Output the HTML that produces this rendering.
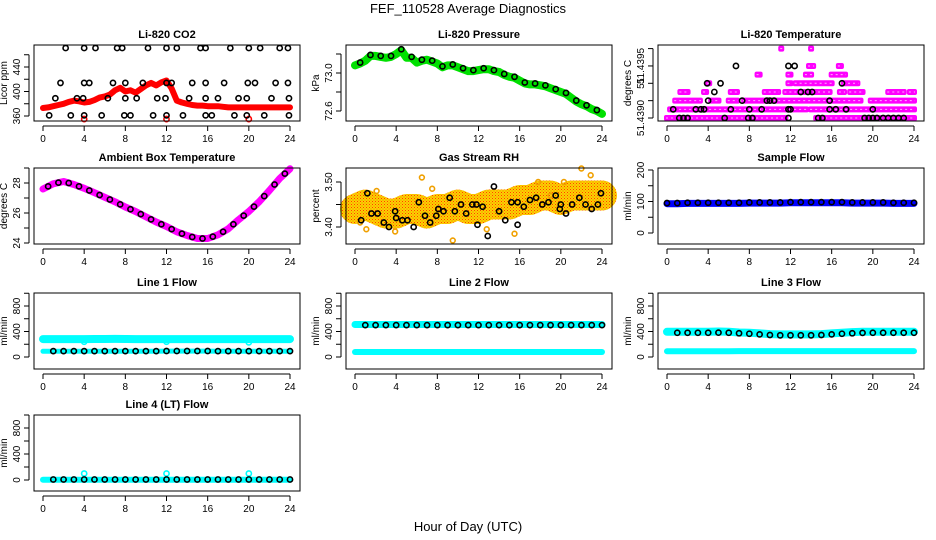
<!DOCTYPE html>
<html><head><meta charset="utf-8"><title>FEF_110528 Average Diagnostics</title>
<style>
html,body{margin:0;padding:0;background:#fff;}
svg{display:block;font-family:"Liberation Sans",Arial,sans-serif;}
</style></head>
<body>
<svg id="chart" width="936" height="540" viewBox="0 0 936 540">
<defs>
<pattern id="rhpat" width="3" height="3" patternUnits="userSpaceOnUse"><rect width="3" height="3" fill="#ffd000"/><rect x="0" y="0" width="1" height="1" fill="#ff4000"/><rect x="1.5" y="1.5" width="1" height="1" fill="#e08000"/></pattern>
</defs>
<text x="468" y="13" text-anchor="middle" font-size="13">FEF_110528  Average Diagnostics</text>
<text x="468" y="531" text-anchor="middle" font-size="13">Hour of Day (UTC)</text>
</svg>
<script>
// ---- data ----
const HH = [0,0.5,1,1.5,2,2.5,3,3.5,4,4.5,5,5.5,6,6.5,7,7.5,8,8.5,9,9.5,10,10.5,11,11.5,12,12.5,13,13.5,14,14.5,15,15.5,16,16.5,17,17.5,18,18.5,19,19.5,20,20.5,21,21.5,22,22.5,23,23.5,24];
const H = [0,1,2,3,4,5,6,7,8,9,10,11,12,13,14,15,16,17,18,19,20,21,22,23,24];
const xTicks = [0,4,8,12,16,20,24];

const co2Red = [373,374,376,378,380,383,385,384,382,383,386,390,392,395,402,406,400,402,398,404,410,414,410,415,418,405,385,382,380,378,377,377,376,376,376,375,374,374,374,374,374,374,374,374,374,374,374,374,374];
const co2OutT = [4,12,20];
const co2OutV = [355,355,355];
const co2BlkT = [2.2,4,5.1,7.2,7.7,10.2,12,13,15.3,15.8,18.2,20,21.1,23,23.8, 1.7,4,4.5,6.8,8,9.7,12,12.5,14.5,15.8,17.6,19.9,20.6,22.6,23.8, 1.2,3.3,3.9,6.3,8,9.1,11.1,11.9,14.2,15.8,17,19,19.8,22.2,23.9, 0.6,2.7,4,5.7,7.9,8.5,10.7,12,13.6,15.8,16.4,18.6,19.8,21.5,23.9];
const co2BlkV = [471,471,471,471,471,471,471,471,471,471,471,471,471,471,471, 414,414,414,414,414,414,414,414,414,414,414,414,414,414,414, 389,389,389,389,389,389,389,389,389,389,389,389,389,389,389, 361,361,361,361,361,361,361,361,361,361,361,361,361,361,361];

const pres = [73.08,73.10,73.13,73.18,73.18,73.17,73.16,73.17,73.20,73.24,73.16,73.16,73.11,73.13,73.14,73.12,73.10,73.06,73.08,73.08,73.06,73.04,73.02,73.02,73.03,73.04,73.04,73.02,73.01,72.98,72.96,72.95,72.92,72.89,72.88,72.88,72.87,72.86,72.84,72.82,72.80,72.78,72.74,72.70,72.67,72.65,72.62,72.60,72.57];

const tempRunLevel = [0,0,1,1,2,2,2,2,2,3,3,3,3,3,3,3,3,3,3,4,4,4,4,5,5,5,5,6,6,8,8];
const tempRunStart = [0,14.5,0.3,14,0.8,4.3,6,7.5,19.8,1.3,3.6,6.2,9.5,11.5,13.8,16.8,17.8,21.5,23.6,4,11.8,12.5,17.2,8.8,11.8,13.5,16,13.8,16.7,11.1,14];
const tempRunEnd = [11.5,24,13.5,24,3.2,5,6.8,18.8,24,2,3.8,6.8,10.8,13.5,15.8,17.2,19,23,24,4.1,12,16,18.5,9,12,14,17.3,14.2,16.9,11.1,14];
const tempBlkT = [1.2,1.6,2.0,5.6,7.9,8.3,11.8,14.7,15.1,19.2,19.6,20,20.4,21,21.5,22,22.5,23, 0.6,2.8,3.3,3.6,6.2,8,9.2,11.8,12.0,15.8,16.4,17.4,20, 4,7.3,9.7,10,10.4,15.8, 4.6,13,13.7,14.1, 3.9,5.2,17, 6.7,11.8,12.4];
const tempBlkL = [0,0,0,0,0,0,0,0,0,0,0,0,0,0,0,0,0,0, 1,1,1,1,1,1,1,1,1,1,1,1,1, 2,2,2,2,2,2, 3,3,3,3, 4,4,4, 6,6,6];

const ambient = [27.6,27.95,28.1,27.9,27.65,27.35,27.05,26.75,26.4,26.1,25.75,25.4,25.1,24.75,24.5,24.3,24.3,24.55,24.95,25.55,26.1,26.75,27.5,28.3,28.95];

const rhMean = [3.44,3.45,3.44,3.43,3.43,3.44,3.44,3.43,3.44,3.44,3.45,3.44,3.44,3.45,3.45,3.45,3.46,3.46,3.47,3.47,3.46,3.47,3.47,3.47,3.47];
const rhOutT = [0.5,1.1,2.1,3.9,6.5,7.5,9.5,12.8,15.5,17.8,19.0,20.3,22,22.9];
const rhOutV = [3.41,3.395,3.48,3.39,3.51,3.485,3.37,3.395,3.385,3.5,3.47,3.50,3.53,3.515];
const rhBlkT = [0.6,1.2,1.6,2.2,2.8,3.3,3.9,4,4.6,5.1,5.7,6.2,6.8,7.3,7.9,8.1,8.6,9.2,9.7,10.3,10.8,11.4,11.8,11.9,12.4,12.9,13.5,14.0,14.6,15.2,15.8,15.8,16.4,17,17.6,18.2,18.8,19.5,19.9,20,20.5,21.1,21.8,22.4,23,23.6,23.9];
const rhBlkV = [3.415,3.475,3.43,3.43,3.41,3.40,3.435,3.42,3.415,3.415,3.40,3.455,3.425,3.41,3.425,3.44,3.435,3.465,3.435,3.45,3.43,3.45,3.45,3.405,3.445,3.38,3.49,3.435,3.415,3.455,3.455,3.405,3.445,3.46,3.465,3.45,3.455,3.47,3.44,3.45,3.43,3.45,3.465,3.45,3.44,3.45,3.475];

const sampleBlue = [93,93,94,94,94,94,94,94,95,95,95,95,96,96,96,96,96,96,95,95,95,95,94,94,94];
const sampleBlack = [95,95,96,96,96,96,96,96,97,97,97,97,98,98,98,98,98,98,97,97,97,97,96,96,96];

const l1Cyan = [280,280,280,280,280,282,282,284,282,280,280,280,280,280,280,280,280,280,280,280,280,280,280,280,280];
const l1Low = [90,90,90,90,90,90,90,90,90,90,90,90,92,92,92,92,92,90,90,90,90,90,90,90,90];
const l1Black = [92,92,92,92,92,92,92,92,92,92,92,92,94,94,94,94,94,92,92,92,92,92,92,92,92];
const l2Cyan = [510,510,510,510,510,510,510,510,510,510,510,510,510,510,510,510,510,510,510,510,510,510,510,510,510];
const l2Low = [78,78,78,78,78,78,78,78,78,78,78,78,78,78,78,78,78,78,78,78,78,78,78,78,78];
const l2Black = [500,500,500,500,500,500,500,500,500,500,500,500,500,500,500,500,500,500,500,500,500,500,500,500,500];
const l3Cyan = [395,395,395,395,395,400,395,385,380,370,360,355,355,355,355,360,370,380,390,395,395,395,395,395,395];
const l3Low = [90,90,90,90,90,90,90,92,92,92,92,92,92,92,92,92,92,92,92,92,92,92,92,92,92];
const l3Black = [380,380,380,380,380,382,380,372,365,355,345,340,340,340,340,345,355,365,372,378,380,380,380,380,380];
const l4Cyan = [5,5,5,5,5,5,5,5,5,5,5,5,5,5,5,5,5,5,5,5,5,5,5,5,5];
const l4Black = [8,8,8,8,8,8,8,8,8,8,8,8,8,8,8,8,8,8,8,8,8,8,8,8,8];
const outT = [4,12,20];
const l1OutV = [240,240,230];
const l4OutV = [100,100,100];

// ---- drawing ----
const NS = 'http://www.w3.org/2000/svg';
const svg = document.getElementById('chart');
function mk(tag, attrs, parent){
  const e = document.createElementNS(NS, tag);
  for (const k in attrs) e.setAttribute(k, attrs[k]);
  (parent || svg).appendChild(e);
  return e;
}
const rowTop = [45,168,293,415];
const BOXH = 76;

function panel(col,row,title,ylab,v0,p0,v1,p1,yticks,ylabels){
  const off = col*312;
  const g = mk('g',{});
  
  
  const top = rowTop[row], bot = top+BOXH;
  const P = {
    g, top, bot, left: 34+off, right: 300+off,
    x: t => 43+off + t*(247/24),
    y: v => p0 + (v-v0)*(p1-p0)/(v1-v0)
  };
  const plot = mk('g',{},g);
  
  
  P.plot = plot;
  const box = mk('rect',{x:P.left,y:top,width:P.right-P.left,height:BOXH,fill:'none',stroke:'#000','stroke-width':1},g);
  
  
  const tt = mk('text',{x:(P.left+P.right)/2,y:top-7,'text-anchor':'middle','font-size':11,'font-weight':'bold'},g);
  tt.textContent = title;
  
  
  const xa = mk('g',{},g);
  
  
  mk('line',{x1:P.x(0),x2:P.x(24),y1:bot+5,y2:bot+5,stroke:'#000'},xa);
  xTicks.forEach(t=>{
    mk('line',{x1:P.x(t),x2:P.x(t),y1:bot+5,y2:bot+10,stroke:'#000'},xa);
    const lb = mk('text',{x:P.x(t),y:bot+21,'text-anchor':'middle','font-size':10},xa);
    lb.textContent = t;
    
    
  });
  const ya = mk('g',{},g);
  
  
  const ax = P.left-5;
  mk('line',{x1:ax,x2:ax,y1:P.y(yticks[0]),y2:P.y(yticks[yticks.length-1]),stroke:'#000'},ya);
  yticks.forEach(v=>{ mk('line',{x1:ax-5,x2:ax,y1:P.y(v),y2:P.y(v),stroke:'#000'},ya); });
  ylabels.forEach(l=>{
    const yy = P.y(l[0]);
    const lb = mk('text',{x:0,y:0,'text-anchor':'middle','font-size':10,transform:`translate(${ax-9},${yy}) rotate(-90)`},ya);
    lb.textContent = l[1];
    
    
  });
  const yt = mk('text',{x:0,y:0,'text-anchor':'middle','font-size':10,transform:`translate(${P.left-27},${(top+bot)/2}) rotate(-90)`},g);
  yt.textContent = ylab;
  
  
  return P;
}
function band(P,ts,vs,color,w,name){
  const pts = ts.map((t,i)=>P.x(t).toFixed(1)+','+P.y(vs[i]).toFixed(1)).join(' ');
  const e = mk('polyline',{points:pts,fill:'none',stroke:color,'stroke-width':w,'stroke-linejoin':'round','stroke-linecap':'round'},P.plot);
  
  
  return e;
}
function pts(P,ts,vs,color,r,name,sw){
  const g = mk('g',{},P.plot);
  
  
  ts.forEach((t,i)=>{
    mk('circle',{cx:P.x(t),cy:P.y(vs[i]),r:r,fill:'none',stroke:color,'stroke-width':sw||1.6},g);
  });
}
function range(a,b,s){const r=[];for(let v=a;v<=b+1e-9;v+=s)r.push(+v.toFixed(4));return r;}

// CO2
let P = panel(0,0,'Li-820 CO2','Licor ppm',360,116,440,67,range(360,460,20),[[360,'360'],[400,'400'],[440,'440']]);
band(P,HH,co2Red,'#ff0000',6,'co2-series');
pts(P,co2OutT,co2OutV,'#ff0000',2.6,'co2-outliers');
pts(P,co2BlkT,co2BlkV,'#000',2.6,'co2-average-points');

// Pressure
P = panel(1,0,'Li-820 Pressure','kPa',73.0,73,72.6,111,[72.6,72.8,73.0,73.2],[[72.6,'72.6'],[73.0,'73.0']]);
band(P,HH,pres,'#00e000',8,'pressure-series');
pts(P,HH.filter((t,i)=>i%2===1),pres.filter((v,i)=>i%2===1).map(v=>v+0.01),'#000',2.6,'pressure-average-points');

// Temperature
P = panel(2,0,'Li-820 Temperature','degrees C',0,118,8,48.6,[0,2,4,6,8],[[0,'51.4390'],[4,'51'],[6,'51.4395']]);
{
  const g = mk('g',{},P.plot);
  
  
  tempRunLevel.forEach((l,i)=>{
    const x0 = P.x(tempRunStart[i]), x1 = P.x(tempRunEnd[i]);
    mk('rect',{x:x0-3,y:P.y(l)-3,width:x1-x0+6,height:6,rx:2,fill:'#ff00ff'},g);
    mk('line',{x1:x0-1,x2:x1+1,y1:P.y(l),y2:P.y(l),stroke:'#ffb0ff','stroke-width':1,'stroke-dasharray':'2 3'},g);
  });
}
pts(P,tempBlkT,tempBlkL,'#000',2.6,'temperature-average-points');

// Ambient
P = panel(0,1,'Ambient Box Temperature','degrees C',28,183,24,243,[24,25,26,27,28,29],[[24,'24'],[26,'26'],[28,'28']]);
band(P,H,ambient,'#ff00ff',7,'ambient-series');
pts(P,H.slice(0,24).map(t=>t+0.5),ambient.slice(0,24).map((v,i)=>(v+ambient[i+1])/2),'#000',2.6,'ambient-average-points');

// RH
P = panel(1,1,'Gas Stream RH','percent',3.50,182,3.40,227,[3.40,3.45,3.50],[[3.40,'3.40'],[3.50,'3.50']]);
band(P,H,rhMean,'url(#rhpat)',30,'rh-series');
pts(P,rhOutT,rhOutV,'#f0a000',2.4,'rh-outliers',1.6);
pts(P,rhBlkT,rhBlkV,'#000',2.6,'rh-average-points');

// Sample flow
P = panel(2,1,'Sample Flow','ml/min',200,170,0,233,[0,50,100,150,200],[[0,'0'],[100,'100'],[200,'200']]);
band(P,H,sampleBlue,'#0000ff',7,'sample-flow-series');
pts(P,H,sampleBlack,'#000',2.6,'sample-flow-average-points');

// Line 1
const flowTicks = [0,200,400,600,800,1000];
const flowLabels = [[0,'0'],[400,'400'],[800,'800']];
P = panel(0,2,'Line 1 Flow','ml/min',0,357,800,306,flowTicks,flowLabels);
band(P,H,l1Cyan,'#00ffff',8,'line1-flow-series');
band(P,H,l1Low,'#00ffff',5,'line1-low-series');
pts(P,outT,l1OutV,'#00ffff',2.6,'line1-outliers');
pts(P,H.slice(1),l1Black.slice(1),'#000',2.6,'line1-average-points');

// Line 2
P = panel(1,2,'Line 2 Flow','ml/min',0,357,800,306,flowTicks,flowLabels);
band(P,H,l2Cyan,'#00ffff',7,'line2-flow-series');
band(P,H,l2Low,'#00ffff',6,'line2-low-series');
pts(P,H.slice(1),l2Black.slice(1),'#000',2.6,'line2-average-points');

// Line 3
P = panel(2,2,'Line 3 Flow','ml/min',0,357,800,306,flowTicks,flowLabels);
band(P,H,l3Cyan,'#00ffff',8,'line3-flow-series');
band(P,H,l3Low,'#00ffff',6,'line3-low-series');
pts(P,H.slice(1),l3Black.slice(1),'#000',2.6,'line3-average-points');

// Line 4
P = panel(0,3,'Line 4 (LT) Flow','ml/min',0,480,800,428,flowTicks,flowLabels);
band(P,H,l4Cyan,'#00ffff',6,'line4-flow-series');
pts(P,outT,l4OutV,'#00ffff',2.6,'line4-outliers');
pts(P,H.slice(1),l4Black.slice(1),'#000',2.6,'line4-average-points');
</script>
</body></html>
